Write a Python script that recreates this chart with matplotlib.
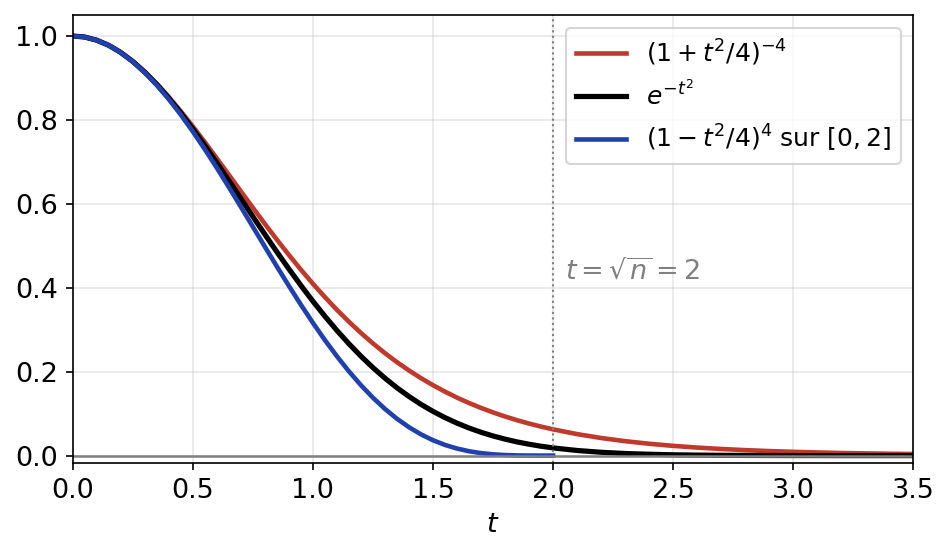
import matplotlib
matplotlib.use('Agg')
import matplotlib.pyplot as plt

# values (step 0.05 up to t=2, then 0.1)
t_full = [0.0, 0.05, 0.1, 0.15, 0.2, 0.25, 0.3, 0.35, 0.4, 0.45, 0.5, 0.55,
          0.6, 0.65, 0.7, 0.75, 0.8, 0.85, 0.9, 0.95, 1.0, 1.05, 1.1, 1.15,
          1.2, 1.25, 1.3, 1.35, 1.4, 1.45, 1.5, 1.55, 1.6, 1.65, 1.7, 1.75,
          1.8, 1.85, 1.9, 1.95, 2.0, 2.1, 2.2, 2.3, 2.4, 2.5, 2.6, 2.7, 2.8,
          2.9, 3.0, 3.1, 3.2, 3.3, 3.4, 3.5]
red_vals = [1.0, 0.9975, 0.9901, 0.9778, 0.9610, 0.9399, 0.9148, 0.8863,
            0.8548, 0.8207, 0.7847, 0.7471, 0.7084, 0.6692, 0.6299, 0.5908,
            0.5523, 0.5147, 0.4783, 0.4432, 0.4096, 0.3777, 0.3474, 0.3190,
            0.2923, 0.2674, 0.2442, 0.2227, 0.2029, 0.1846, 0.1678, 0.1524,
            0.1382, 0.1253, 0.1136, 0.1029, 0.0932, 0.0843, 0.0763, 0.0691,
            0.0625, 0.0512, 0.0419, 0.0344, 0.0282, 0.0232, 0.0191, 0.0158,
            0.0130, 0.0108, 0.0090, 0.0075, 0.0062, 0.0052, 0.0044, 0.0037]
black_vals = [1.0, 0.9975, 0.9900, 0.9778, 0.9608, 0.9394, 0.9139, 0.8847,
              0.8521, 0.8167, 0.7788, 0.7390, 0.6977, 0.6554, 0.6126, 0.5698,
              0.5273, 0.4855, 0.4449, 0.4056, 0.3679, 0.3321, 0.2982, 0.2665,
              0.2369, 0.2096, 0.1845, 0.1616, 0.1409, 0.1221, 0.1054, 0.0905,
              0.0773, 0.0657, 0.0556, 0.0468, 0.0392, 0.0326, 0.0271, 0.0223,
              0.0183, 0.0122, 0.0079, 0.0050, 0.0032, 0.0019, 0.0012, 0.0007,
              0.0004, 0.0002, 0.0001, 0.0001, 0.0, 0.0, 0.0, 0.0]
t_blue = t_full[:41]
blue_vals = [1.0, 0.9975, 0.9900, 0.9777, 0.9606, 0.9390, 0.9130, 0.8830,
             0.8494, 0.8124, 0.7725, 0.7301, 0.6858, 0.6399, 0.5929, 0.5454,
             0.4979, 0.4507, 0.4045, 0.3596, 0.3164, 0.2753, 0.2367, 0.2008,
             0.1678, 0.1379, 0.1112, 0.0878, 0.0677, 0.0506, 0.0366, 0.0254,
             0.0168, 0.0104, 0.0059, 0.0030, 0.0013, 0.0004, 0.0001, 0.0,
             0.0]

labels = [r'$(1+t^2/4)^{-4}$', r'$e^{-t^2}$', r'$(1-t^2/4)^4$ sur $[0,2]$']

fig = plt.figure(figsize=(950/150, 556/150), dpi=150)
ax = fig.add_axes([0.0765, 0.167, 0.885, 0.806])

ax.plot(t_full, red_vals, color='#c0392b', lw=2.2, label=labels[0])
ax.plot(t_full, black_vals, color='black', lw=2.5, label=labels[1])
ax.plot(t_blue, blue_vals, color='#2040b0', lw=2.2, label=labels[2])

ax.axhline(0, color='gray', lw=1.2)
ax.axvline(2.0, color='gray', lw=1, ls=':')
ax.text(2.05, 0.42, r'$t=\sqrt{n}=2$', color='gray', fontsize=13)

ax.set_xlim(0, 3.5)
ax.set_ylim(-0.018, 1.05)
ax.set_xlabel('$t$', fontsize=13)
ax.tick_params(labelsize=13)
ax.grid(True, alpha=0.3)
ax.legend(loc='upper right', fontsize=12)

fig.savefig('out.png', dpi=150)
